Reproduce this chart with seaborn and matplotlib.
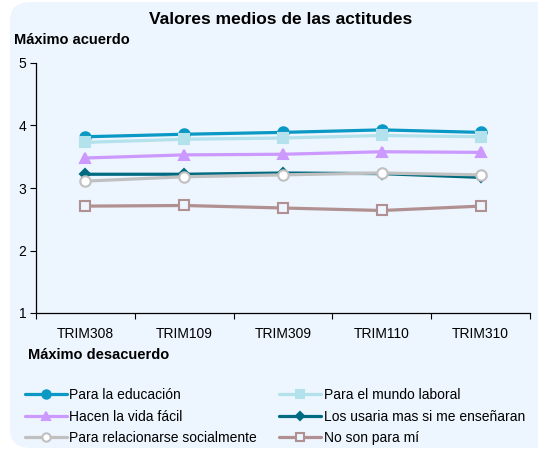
import matplotlib
matplotlib.use("Agg")
import matplotlib.pyplot as plt
import seaborn as sns
import pandas as pd
from matplotlib.patches import FancyBboxPatch
from matplotlib.ticker import FixedLocator

categories = ["TRIM308", "TRIM109", "TRIM309", "TRIM110", "TRIM310"]
educacion = [3.82, 3.86, 3.89, 3.93, 3.89]
laboral = [3.73, 3.78, 3.80, 3.84, 3.82]
vida_facil = [3.48, 3.53, 3.54, 3.58, 3.57]
usaria = [3.22, 3.22, 3.24, 3.23, 3.17]
relacionarse = [3.11, 3.18, 3.21, 3.24, 3.21]
no_son = [2.71, 2.72, 2.68, 2.64, 2.71]
series_names = ["Para la educación", "Para el mundo laboral", "Hacen la vida fácil",
                "Los usaria mas si me enseñaran", "Para relacionarse socialmente", "No son para mí"]
series_values = [educacion, laboral, vida_facil, usaria, relacionarse, no_son]

BG = "#EDF5FE"
styles = {
    "Para la educación": dict(color="#0A98C4", marker="o", ms=7.5, mfc="#0A98C4", mec="#0A98C4"),
    "Para el mundo laboral": dict(color="#B3E1EC", marker="s", ms=7.5, mfc="#B3E1EC", mec="#B3E1EC"),
    "Hacen la vida fácil": dict(color="#CC99FF", marker="^", ms=7.5, mfc="#CC99FF", mec="#CC99FF"),
    "Los usaria mas si me enseñaran": dict(color="#006A80", marker="D", ms=5.5, mfc="#006A80", mec="#006A80"),
    "Para relacionarse socialmente": dict(color="#C0C0C0", marker="o", ms=7.5, mfc="white", mec="#C0C0C0"),
    "No son para mí": dict(color="#B09090", marker="s", ms=6.5, mfc=BG, mec="#B09090"),
}

sns.set_theme(style="white")
plt.rcParams["font.family"] = ["Liberation Sans", "DejaVu Sans"]

fig = plt.figure(figsize=(5.38, 4.5), dpi=100)
fig.patch.set_facecolor("white")
bgax = fig.add_axes([0, 0, 1, 1])
bgax.set_axis_off()
bgax.set_zorder(0)
bgax.add_patch(FancyBboxPatch((10 / 538, 2 / 450), 560 / 538, 446 / 450,
                              boxstyle="round,pad=0,rounding_size=0.04",
                              transform=bgax.transAxes, facecolor=BG, edgecolor="none"))

ax = fig.add_axes([36 / 538, 1 - 313 / 450, (530 - 36) / 538, (313 - 63) / 450])
ax.set_zorder(1)
ax.patch.set_alpha(0)

x = list(range(len(categories)))
handles = {}
for name, vals in zip(series_names, series_values):
    st = styles[name]
    df = pd.DataFrame({"x": x, "y": vals})
    sns.lineplot(data=df, x="x", y="y", ax=ax, color=st["color"], linewidth=2.3,
                 marker=st["marker"], markersize=st["ms"], markerfacecolor=st["mfc"],
                 markeredgecolor=st["mec"], markeredgewidth=1.5, label=name, legend=False)
    handles[name] = ax.lines[-1]

ax.set_xlim(-0.5, 4.5)
ax.set_ylim(1, 5)
ax.set_yticks([1, 2, 3, 4, 5])
ax.set_xticks(x)
ax.set_xticklabels(categories, fontsize=10)
ax.xaxis.set_minor_locator(FixedLocator([-0.5, 0.5, 1.5, 2.5, 3.5, 4.5]))
ax.tick_params(axis="x", which="major", length=0, pad=10, colors="black")
ax.tick_params(axis="x", which="minor", length=4, width=0.8, color="black", bottom=True)
ax.tick_params(axis="y", length=4, width=0.8, color="black", left=True, labelsize=10,
               pad=3, labelcolor="black")
ax.set_xlabel("")
ax.set_ylabel("")
for s in ["top", "right"]:
    ax.spines[s].set_visible(False)
for s in ["left", "bottom"]:
    ax.spines[s].set_color("black")
    ax.spines[s].set_linewidth(0.9)

fig.text(281 / 538, 1 - 20 / 450, "Valores medios de las actitudes", ha="center", va="center",
         fontsize=12.5, fontweight="bold", color="black")
fig.text(14 / 538, 1 - 40 / 450, "Máximo acuerdo", ha="left", va="center",
         fontsize=10.5, fontweight="bold", color="black")
fig.text(28 / 538, 1 - 355 / 450, "Máximo desacuerdo", ha="left", va="center",
         fontsize=10.5, fontweight="bold", color="black")

order = ["Para la educación", "Hacen la vida fácil", "Para relacionarse socialmente",
         "Para el mundo laboral", "Los usaria mas si me enseñaran", "No son para mí"]
leg = fig.legend([handles[n] for n in order], order, ncol=2, loc="upper left",
                 bbox_to_anchor=(25 / 538, 1 - 388 / 450), frameon=False, fontsize=10,
                 handlelength=3.0, handletextpad=0.2, columnspacing=1.6, labelspacing=0.55,
                 borderaxespad=0, borderpad=0, markerscale=0.8)
for t in leg.get_texts():
    t.set_color("black")

fig.savefig("out.png", dpi=100, facecolor="white")
